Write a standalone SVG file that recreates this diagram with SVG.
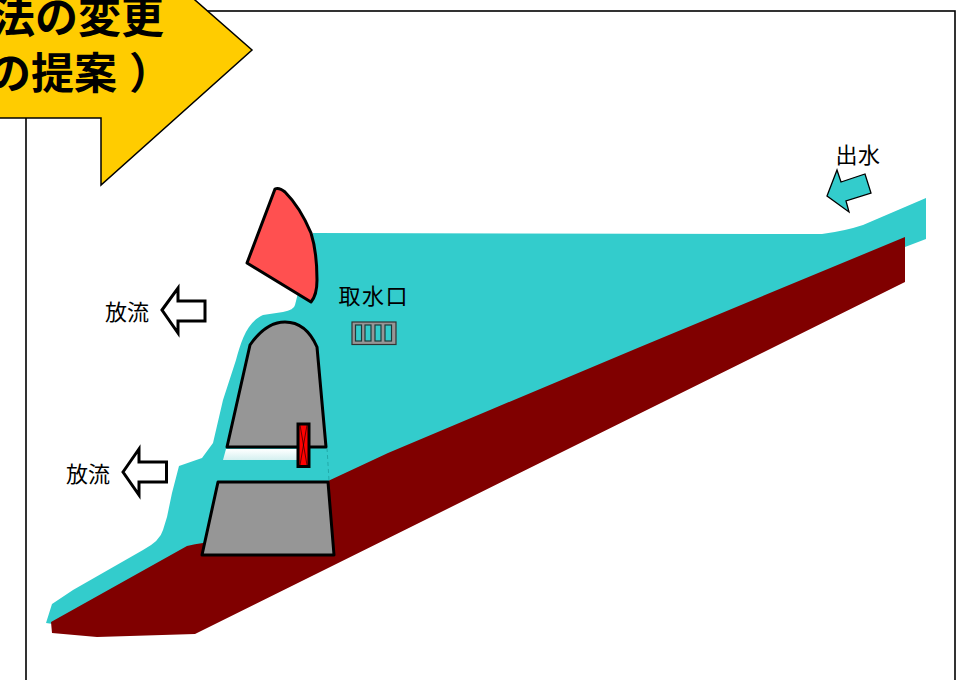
<svg xmlns="http://www.w3.org/2000/svg" width="970" height="680" viewBox="0 0 970 680">
<style>
text{font-family:"Noto Sans CJK JP","Liberation Sans",sans-serif;fill:#000}
.lb{font-size:22px}
.ttl{font-size:43px;font-weight:700}
.blk{fill:#969696;stroke:#000;stroke-width:3;stroke-linejoin:round}
.flow{fill:#fff;stroke:#000;stroke-width:3}
.slot{fill:#33cccc;stroke:#1c3c3c;stroke-width:1.2}
</style>
<defs>
<linearGradient id="win" x1="0" y1="0" x2="0" y2="1"><stop offset="0" stop-color="#ffffff"/><stop offset="1" stop-color="#d4f0f0"/></linearGradient>
</defs>
<rect id="frame" x="26" y="11" width="929" height="680" fill="#fff" stroke="#000" stroke-width="1.6"/>
<g id="water">
<path fill="#33cccc" d="M46 623L52 604L73 590L143 550Q160 541 163 530L167 517L172 493L179 466L202 458L213 443L223 400L236 360C241 342 247 322 263 315L283 312Q294 310 295 305L298 293L313 233L822 234Q845 231 863 225L926 198L926 239L905 247L640 370L330 540L190 590L60 625Z"/>
</g>
<g id="bed">
<path fill="#800000" d="M905 237L905 282L195 634L97 637L52 633L51 622L187 546Q195 544 203 543L328 481L388 453L490 410L640 347Z"/>
</g>
<g id="window">
<path fill="url(#win)" d="M226 449L223 460L297 460L297 449Z"/>
<path fill="none" stroke="#1a9a9a" stroke-width="0.7" stroke-dasharray="4 3" d="M327 448L329 480"/>
</g>
<g id="gate-radial">
<path fill="#ff5050" stroke="#000" stroke-width="3" stroke-linejoin="round" d="M275 189Q279 187 285 192Q300 207 311 233Q317 252 317 280Q317 295 311 302L247 263Z"/>
</g>
<g id="dam-upper"><path class="blk" d="M227 447L250 345Q266 322 285 322Q306 322 317 347L326 447Z"/></g>
<g id="dam-lower"><path class="blk" d="M218 482L328 482L334 555L202 555Z"/></g>
<g id="valve">
<rect x="298" y="424" width="11" height="42.500" fill="#ff0000" stroke="#000" stroke-width="3"/>
<path d="M300 425L307 465M307 425L300 465" fill="none" stroke="#000" stroke-width="0.6"/>
</g>
<g id="intake">
<rect x="352" y="322" width="44" height="22.500" fill="#969696" stroke="#333" stroke-width="1.2"/>
<rect class="slot" x="355.500" y="325" width="6" height="16"/>
<rect class="slot" x="365" y="325" width="6" height="16"/>
<rect class="slot" x="375" y="325" width="6" height="16"/>
<rect class="slot" x="385" y="325" width="6.500" height="16"/>
<text class="lb" x="338.500" y="304" letter-spacing="1.5">取水口</text>
</g>
<g id="outflow-1">
<path class="flow" d="M162 310L178 288L178 301L205 301L205 321L178 321L178 333Z"/>
<text class="lb" x="105" y="320">放流</text>
</g>
<g id="outflow-2">
<path class="flow" d="M123 472L139 449L139 462L166.500 462L166.500 482L139 482L139 495Z"/>
<text class="lb" x="66" y="482">放流</text>
</g>
<g id="inflow">
<path fill="#33cccc" stroke="#000" stroke-width="1.300" d="M837 170L841 182L865 174L871 193L846 201L849 212L827 196Z"/>
<text class="lb" x="835.500" y="163" letter-spacing="0.5">出水</text>
</g>
<g id="callout">
<path fill="#ffcc00" stroke="#000" stroke-width="1.500" d="M-10 118L101 118L101 185L252 50L187 -7L-10 -7Z"/>
<text class="ttl" x="-8" y="33">法の変更</text>
<text class="ttl" x="-12" y="89">の提案<tspan dx="12">）</tspan></text>
</g>
</svg>
